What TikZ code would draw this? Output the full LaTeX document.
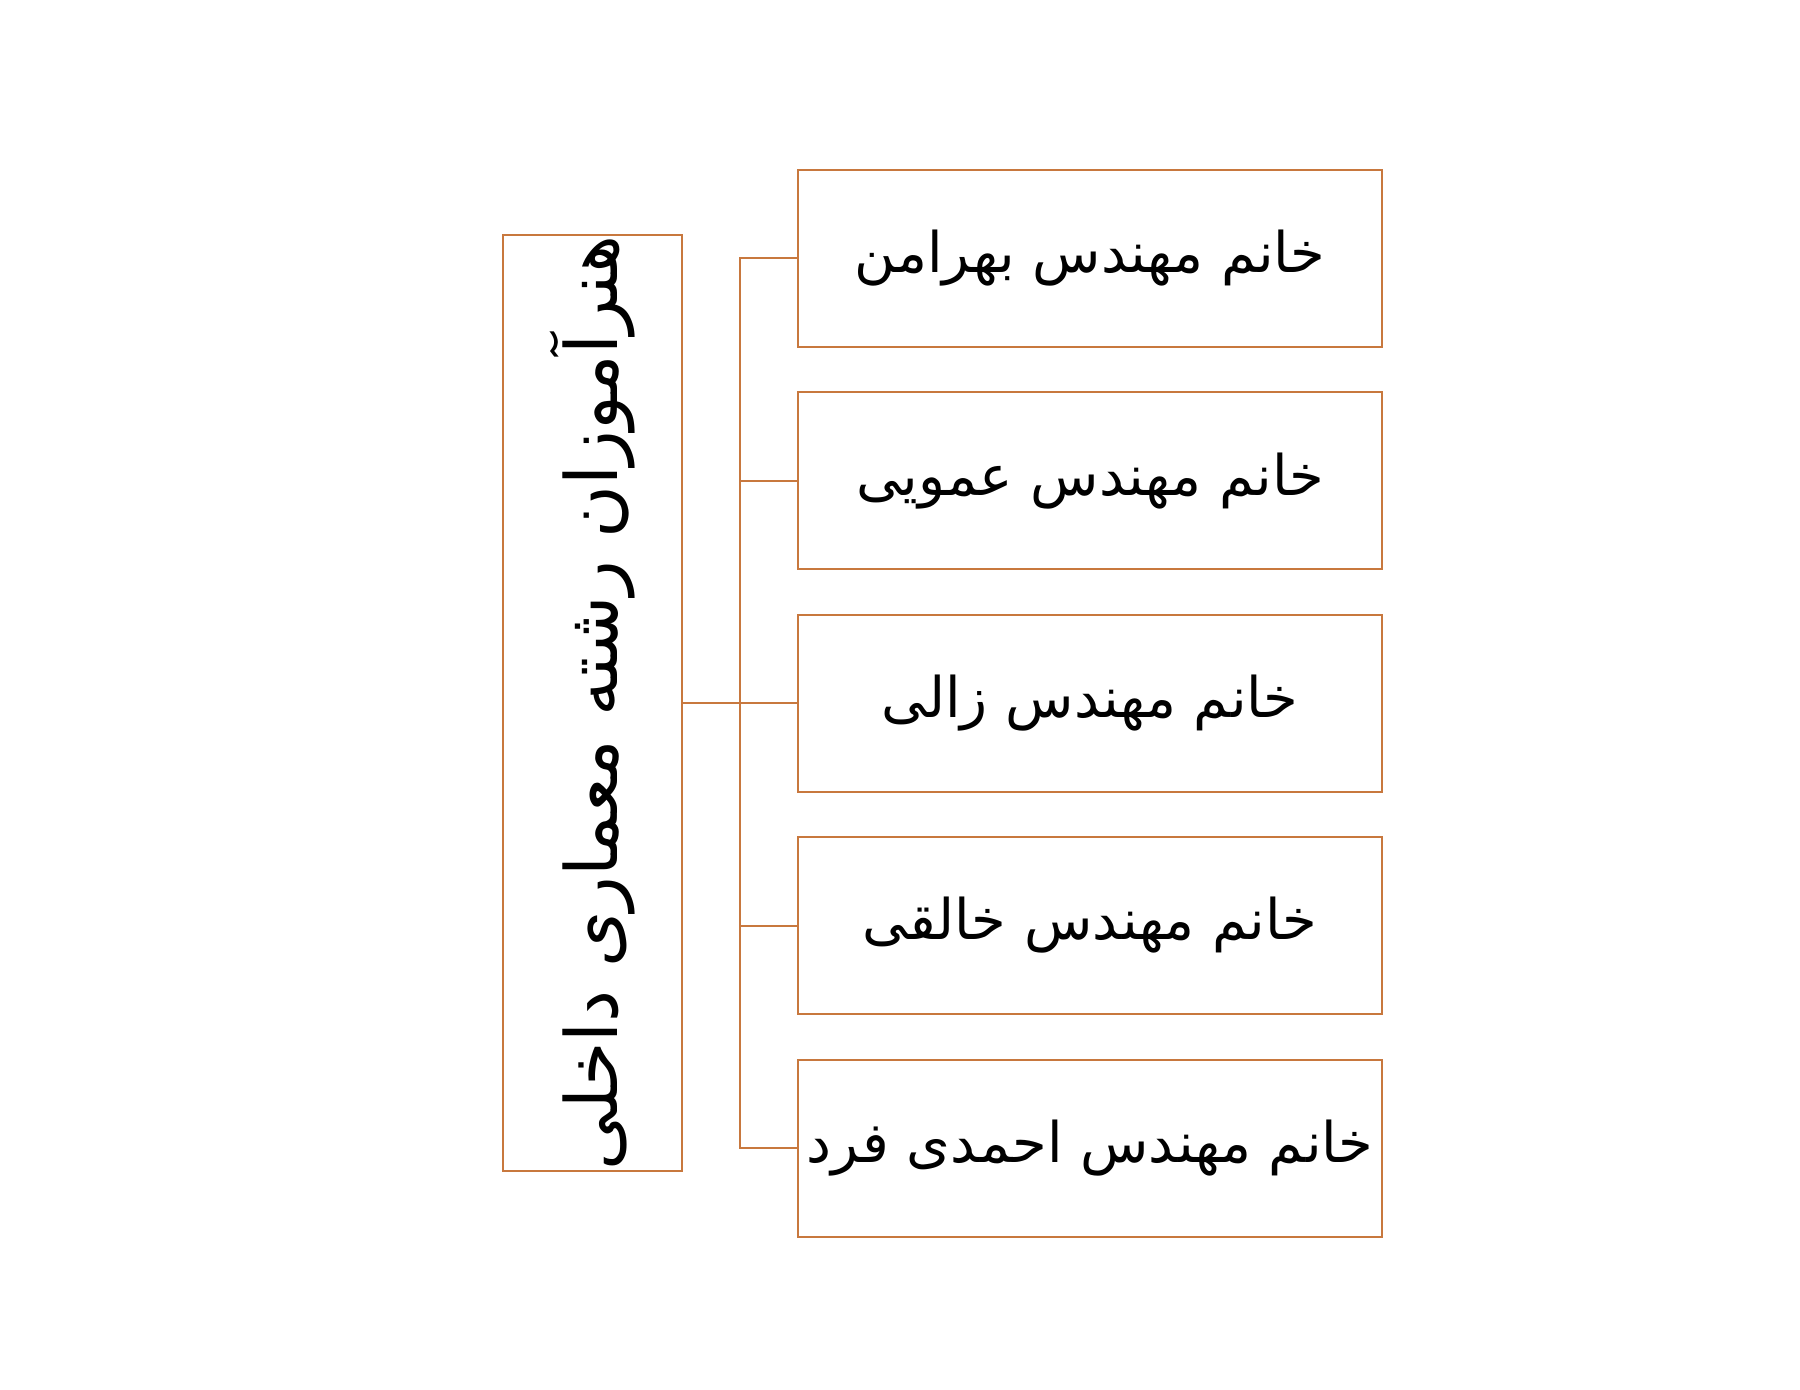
\documentclass[tikz,border=0pt]{standalone}
\usepackage{fontspec}
\newfontfamily\arabicfont[Script=Arabic]{DejaVu Sans}
\TeXXeTstate=1
\definecolor{boxline}{RGB}{200,120,62}
\tikzset{
  namebox/.style={draw=boxline, line width=1pt, fill=white, minimum width=292pt, minimum height=88.5pt, inner sep=0pt, font=\arabicfont\fontsize{28}{32}\selectfont},
  titlebox/.style={draw=boxline, line width=1pt, fill=white, rotate=90, minimum width=468pt, minimum height=89.5pt, inner sep=0pt, font=\arabicfont\fontsize{36}{40}\selectfont},
  link/.style={draw=boxline, line width=1pt}
}
\begin{document}
\begin{tikzpicture}[x=0.5pt,y=-0.5pt]
\useasboundingbox (0,0) rectangle (1800,1390);
% title box (rotated: its south anchor is the right edge)
\node[titlebox] (main) at (592.5,703) {\beginR هنرآموزان رشته معماری داخلی\endR};
% name boxes
\node[namebox] (b1) at (1090,258.5) {\beginR خانم مهندس بهرامن\endR};
\node[namebox] (b2) at (1090,481) {\beginR خانم مهندس عمویی\endR};
\node[namebox] (b3) at (1090,703) {\beginR خانم مهندس زالی\endR};
\node[namebox] (b4) at (1090,925.5) {\beginR خانم مهندس خالقی\endR};
\node[namebox] (b5) at (1090,1148) {\beginR خانم مهندس احمدی فرد\endR};
% connectors
\coordinate (j) at (740,703);
\draw[link] (main.south) -- (j);
\draw[link] (j) |- (b1.west);
\draw[link] (j) |- (b2.west);
\draw[link] (j) -- (b3.west);
\draw[link] (j) |- (b4.west);
\draw[link] (j) |- (b5.west);
\end{tikzpicture}
\end{document}
